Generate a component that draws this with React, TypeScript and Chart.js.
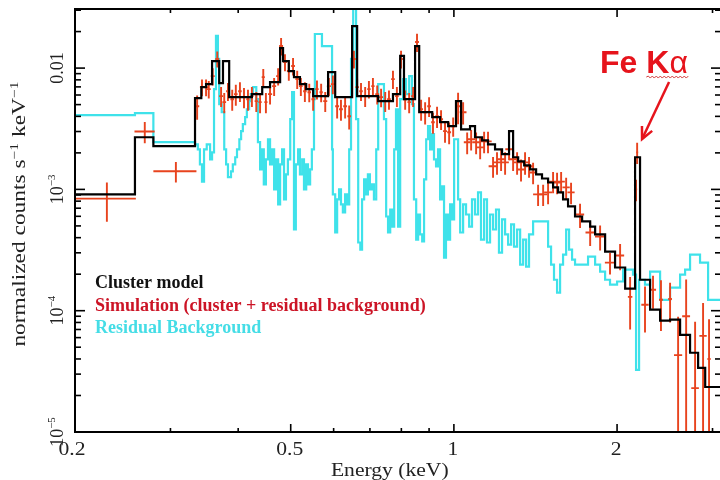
import React, { useEffect, useRef } from "react";
import { Chart, registerables } from "chart.js";

Chart.register(...registerables);

// ---------- axis ranges & ticks ----------
const X_MIN = 0.2;
const X_MAX = 3.11;
const Y_MIN = 1e-5;
const Y_MAX = 0.0307;

const xMajorTicks = [0.2, 0.5, 1, 2];
const xMinorTicks = [0.3, 0.4, 0.6, 0.7, 0.8, 0.9, 3];
const xTickLabels = ["0.2", "0.5", "1", "2"];

const yMajorTicks = [1e-5, 1e-4, 1e-3, 1e-2];
const yMinorTicks = [
  2e-5, 3e-5, 4e-5, 5e-5, 6e-5, 7e-5, 8e-5, 9e-5,
  2e-4, 3e-4, 4e-4, 5e-4, 6e-4, 7e-4, 8e-4, 9e-4,
  2e-3, 3e-3, 4e-3, 5e-3, 6e-3, 7e-3, 8e-3, 9e-3,
  0.02, 0.03,
];
const yTickLabels = ["-5", "-4", "-3", "0.01"];

// ---------- Cluster model (black histogram): bin edges (keV) and counts ----------
const modelE = [0.2, 0.258, 0.279, 0.333, 0.342, 0.349, 0.358, 0.369, 0.375, 0.385, 0.424, 0.443, 0.458, 0.478, 0.484, 0.496, 0.507, 0.52, 0.534, 0.55, 0.586, 0.604, 0.649, 0.663, 0.725, 0.772, 0.796, 0.809, 0.848, 0.863, 0.912, 0.943, 0.976, 1.009, 1.031, 1.071, 1.094, 1.127, 1.156, 1.191, 1.227, 1.264, 1.286, 1.314, 1.348, 1.382, 1.418, 1.454, 1.492, 1.524, 1.557, 1.59, 1.624, 1.673, 1.724, 1.784, 1.822, 1.901, 1.983, 2.07, 2.159, 2.205, 2.301, 2.401, 2.505, 2.614, 2.727, 2.822, 2.908, 3.11];
const modelV = [9.1e-4, 2.69e-3, 2.27e-3, 5.65e-3, 6.97e-3, 7.38e-3, 1.14e-2, 7.52e-3, 1.14e-2, 5.76e-3, 6.1e-3, 6.97e-3, 7.66e-3, 1.46e-2, 1.14e-2, 9.45e-3, 8.43e-3, 7.38e-3, 6.71e-3, 5.87e-3, 9.27e-3, 5.76e-3, 2.22e-2, 5.87e-3, 5.34e-3, 6.1e-3, 1.26e-2, 5.54e-3, 1.52e-2, 4.33e-3, 3.94e-3, 3.58e-3, 3.32e-3, 5.34e-3, 3.13e-3, 3.32e-3, 2.69e-3, 2.54e-3, 2.35e-3, 2.14e-3, 1.95e-3, 3.02e-3, 1.84e-3, 1.7e-3, 1.58e-3, 1.46e-3, 1.33e-3, 1.23e-3, 1.14e-3, 1.04e-3, 9.45e-4, 8.27e-4, 7.24e-4, 5.98e-4, 5.44e-4, 4.94e-4, 4.25e-4, 3.07e-4, 2.27e-4, 1.52e-4, 1.84e-3, 1.8e-4, 1.02e-4, 8.27e-5, 8.43e-5, 6.33e-5, 4.5e-5, 3.38e-5, 2.35e-5];

// ---------- Residual background (cyan histogram) ----------
const bkgE = [0.2, 0.258, 0.279, 0.333, 0.337, 0.34, 0.343, 0.346, 0.35, 0.355, 0.358, 0.361, 0.364, 0.367, 0.369, 0.373, 0.377, 0.38, 0.383, 0.388, 0.391, 0.395, 0.398, 0.402, 0.405, 0.408, 0.412, 0.415, 0.419, 0.422, 0.426, 0.432, 0.435, 0.439, 0.443, 0.446, 0.45, 0.454, 0.458, 0.462, 0.466, 0.47, 0.474, 0.478, 0.482, 0.486, 0.49, 0.494, 0.499, 0.503, 0.507, 0.511, 0.516, 0.52, 0.525, 0.529, 0.534, 0.538, 0.543, 0.547, 0.552, 0.554, 0.571, 0.596, 0.598, 0.604, 0.609, 0.614, 0.619, 0.624, 0.63, 0.635, 0.641, 0.646, 0.652, 0.66, 0.666, 0.672, 0.677, 0.683, 0.689, 0.694, 0.7, 0.706, 0.712, 0.719, 0.725, 0.743, 0.75, 0.756, 0.763, 0.769, 0.776, 0.782, 0.789, 0.796, 0.806, 0.816, 0.827, 0.837, 0.844, 0.852, 0.859, 0.866, 0.874, 0.881, 0.889, 0.896, 0.904, 0.912, 0.919, 0.927, 0.935, 0.943, 0.951, 0.959, 0.967, 0.976, 0.984, 0.992, 1.001, 1.018, 1.027, 1.04, 1.053, 1.067, 1.08, 1.094, 1.108, 1.122, 1.137, 1.151, 1.166, 1.181, 1.196, 1.211, 1.227, 1.243, 1.259, 1.275, 1.291, 1.308, 1.325, 1.342, 1.359, 1.376, 1.4, 1.492, 1.511, 1.53, 1.55, 1.57, 1.59, 1.611, 1.631, 1.652, 1.673, 1.768, 1.822, 1.861, 1.901, 1.941, 2.0, 2.052, 2.14, 2.168, 2.196, 2.252, 2.301, 2.401, 2.505, 2.614, 2.67, 2.727, 2.845, 2.944, 3.11];
const bkgV = [4.09e-3, 4.25e-3, 2.45e-3, 2.35e-3, 2.14e-3, 1.61e-3, 1.16e-3, 2.14e-3, 2.35e-3, 1.77e-3, 2.02e-3, 6.71e-3, 1.84e-2, 1.19e-2, 5.04e-3, 4.33e-3, 2.14e-3, 1.61e-3, 1.26e-3, 1.41e-3, 1.61e-3, 1.84e-3, 2.14e-3, 2.59e-3, 3.02e-3, 3.45e-3, 3.94e-3, 4.58e-3, 5.34e-3, 6.1e-3, 6.97e-3, 5.54e-3, 2.45e-3, 1.46e-3, 2.14e-3, 1.1e-3, 1.77e-3, 2.59e-3, 1.61e-3, 2.14e-3, 1.0e-3, 1.77e-3, 7.52e-4, 1.61e-3, 2.14e-3, 8.27e-4, 1.33e-3, 1.77e-3, 3.79e-3, 6.33e-3, 4.67e-4, 1.61e-3, 2.14e-3, 1.33e-3, 1.77e-3, 1.0e-3, 1.61e-3, 1.1e-3, 1.46e-3, 2.14e-3, 5.54e-3, 1.91e-2, 1.52e-2, 2.14e-3, 9.09e-4, 4.41e-4, 8.27e-4, 1.0e-3, 7.52e-4, 6.46e-4, 9.09e-4, 7.52e-4, 2.14e-3, 1.19e-2, 3.2e-2, 3.79e-3, 3.65e-4, 3.19e-4, 8.27e-4, 1.21e-3, 9.09e-4, 1.33e-3, 1.0e-3, 1.1e-3, 8.27e-4, 2.14e-3, 7.38e-3, 3.79e-3, 5.98e-4, 4.41e-4, 6.83e-4, 4.94e-4, 2.14e-3, 4.58e-3, 4.94e-4, 5.54e-3, 8.11e-3, 6.1e-3, 8.59e-3, 5.04e-3, 8.27e-4, 3.86e-4, 6.21e-4, 4.25e-4, 3.72e-4, 1.21e-3, 2.59e-3, 3.32e-3, 2.14e-3, 2.85e-3, 1.77e-3, 1.55e-3, 2.14e-3, 8.27e-4, 1.06e-3, 2.74e-4, 6.21e-4, 3.86e-4, 7.52e-4, 5.65e-4, 2.59e-3, 8.27e-4, 4.41e-4, 7.52e-4, 6.21e-4, 4.94e-4, 8.27e-4, 6.21e-4, 9.45e-4, 3.86e-4, 8.27e-4, 3.65e-4, 6.21e-4, 4.67e-4, 6.83e-4, 3.01e-4, 5.65e-4, 4.25e-4, 3.51e-4, 5.14e-4, 3.38e-4, 4.67e-4, 2.4e-4, 3.86e-4, 2.31e-4, 4.25e-4, 5.44e-4, 3.38e-4, 2.4e-4, 1.8e-4, 1.41e-4, 2.4e-4, 2.9e-4, 4.67e-4, 3.19e-4, 2.64e-4, 2.4e-4, 2.79e-4, 2.4e-4, 2.1e-4, 1.8e-4, 1.64e-4, 1.74e-4, 2.18e-4, 1.98e-4, 3.25e-5, 1.8e-4, 1.64e-4, 2.1e-4, 1.23e-4, 1.55e-4, 1.98e-4, 2.18e-4, 2.9e-4, 2.49e-4, 1.23e-4];

// ---------- Simulation (red data with error bars) ----------
const simE = [0.229, 0.269, 0.307, 0.336, 0.343, 0.349, 0.353, 0.359, 0.366, 0.372, 0.377, 0.383, 0.39, 0.396, 0.403, 0.41, 0.417, 0.424, 0.432, 0.439, 0.445, 0.45, 0.458, 0.466, 0.474, 0.48, 0.488, 0.496, 0.505, 0.514, 0.522, 0.531, 0.541, 0.55, 0.559, 0.569, 0.579, 0.588, 0.598, 0.609, 0.619, 0.63, 0.641, 0.654, 0.663, 0.674, 0.686, 0.697, 0.709, 0.722, 0.734, 0.747, 0.759, 0.772, 0.785, 0.799, 0.813, 0.827, 0.841, 0.855, 0.87, 0.885, 0.9, 0.915, 0.931, 0.947, 0.963, 0.98, 0.997, 1.018, 1.04, 1.058, 1.076, 1.099, 1.118, 1.137, 1.156, 1.181, 1.201, 1.222, 1.243, 1.264, 1.286, 1.308, 1.33, 1.353, 1.376, 1.4, 1.43, 1.461, 1.492, 1.524, 1.55, 1.577, 1.611, 1.645, 1.709, 1.784, 1.861, 1.941, 2.026, 2.114, 2.168, 2.178, 2.252, 2.33, 2.41, 2.505, 2.592, 2.682, 2.786, 2.882, 2.956];
const simV = [8.4e-4, 3.0e-3, 1.41e-3, 4.85e-3, 6.97e-3, 6.97e-3, 6.71e-3, 8.59e-3, 1.19e-2, 5.87e-3, 5.24e-3, 6.45e-3, 5.54e-3, 6.1e-3, 6.45e-3, 5.76e-3, 5.54e-3, 5.87e-3, 5.34e-3, 5.24e-3, 8.43e-3, 5.24e-3, 6.1e-3, 7.1e-3, 8.59e-3, 1.52e-2, 1.12e-2, 9.45e-3, 1.04e-2, 8.11e-3, 7.1e-3, 6.45e-3, 6.33e-3, 5.54e-3, 6.71e-3, 6.33e-3, 5.34e-3, 7.1e-3, 7.38e-3, 4.85e-3, 4.58e-3, 4.85e-3, 4.01e-3, 1.19e-2, 6.97e-3, 6.45e-3, 5.87e-3, 6.71e-3, 7.1e-3, 6.1e-3, 5.76e-3, 5.34e-3, 5.54e-3, 8.11e-3, 5.87e-3, 1.19e-2, 5.54e-3, 5.24e-3, 5.87e-3, 1.64e-2, 4.58e-3, 4.33e-3, 4.85e-3, 3.58e-3, 4.01e-3, 3.79e-3, 3.02e-3, 2.96e-3, 3.32e-3, 4.85e-3, 4.33e-3, 2.45e-3, 2.59e-3, 2.45e-3, 2.22e-3, 2.49e-3, 2.49e-3, 1.55e-3, 1.67e-3, 1.77e-3, 1.67e-3, 2.14e-3, 1.77e-3, 1.67e-3, 1.46e-3, 1.67e-3, 1.55e-3, 1.38e-3, 9.1e-4, 9.1e-4, 9.45e-4, 1.16e-3, 1.14e-3, 1.16e-3, 1.04e-3, 9.45e-4, 6.21e-4, 4.41e-4, 4.09e-4, 2.49e-4, 2.85e-4, 1.3e-4, 1.0e-3, 2.02e-3, 1.12e-4, 1.49e-4, 1.23e-4, 1.25e-4, 4.3e-5, 9.0e-5, 2.3e-5, 6.2e-5, 4.0e-5];
const simDE = [0.03, 0.0115, 0.028,
  0.003, 0.003, 0.003, 0.003, 0.003, 0.003, 0.003, 0.003, 0.003, 0.003, 0.003, 0.003, 0.003, 0.003, 0.003, 0.003, 0.003, 0.003, 0.003,
  0.004, 0.004, 0.004, 0.004, 0.004, 0.004, 0.004, 0.004, 0.004, 0.004, 0.004, 0.004, 0.004, 0.004,
  0.005, 0.005, 0.005, 0.005, 0.005, 0.005, 0.005, 0.005, 0.005, 0.005, 0.005, 0.005, 0.005,
  0.006, 0.006, 0.006, 0.006, 0.006, 0.006, 0.006, 0.006, 0.006,
  0.007, 0.007, 0.007, 0.007, 0.007, 0.007, 0.007,
  0.008, 0.008, 0.008, 0.008, 0.008,
  0.015, 0.015, 0.018, 0.018, 0.018, 0.018, 0.018,
  0.022, 0.02, 0.02, 0.02, 0.02, 0.022, 0.022, 0.022, 0.022, 0.022, 0.022,
  0.03, 0.025, 0.025, 0.025, 0.025, 0.025, 0.025, 0.025,
  0.03, 0.035,
  0.04, 0.042, 0.035, 0.02, 0.01, 0.01, 0.035, 0.03, 0.02, 0.02, 0.045, 0.045, 0.045, 0.045, 0.02];
const simDV = [3.0e-4, 6.0e-4, 2.7e-4,
  1.1e-3, 1.1e-3, 1.1e-3, 1.1e-3, 1.4e-3, 1.8e-3, 1.1e-3, 1.0e-3, 1.1e-3, 1.1e-3, 1.2e-3, 1.2e-3, 1.1e-3, 1.1e-3, 1.1e-3, 1.0e-3, 1.0e-3, 1.4e-3, 1.0e-3,
  1.1e-3, 1.2e-3, 1.4e-3, 2.5e-3, 1.8e-3, 1.6e-3, 1.7e-3, 1.4e-3, 1.2e-3, 1.2e-3, 1.1e-3, 1.1e-3, 1.2e-3, 1.1e-3,
  1.0e-3, 1.2e-3, 1.3e-3, 1.0e-3, 0.9e-3, 1.0e-3, 0.9e-3, 2.0e-3, 1.2e-3, 1.1e-3, 1.1e-3, 1.1e-3, 1.2e-3,
  1.1e-3, 1.0e-3, 1.0e-3, 1.0e-3, 1.4e-3, 1.1e-3, 2.0e-3, 1.0e-3, 1.0e-3,
  1.1e-3, 2.8e-3, 0.9e-3, 0.9e-3, 0.9e-3, 0.7e-3, 0.8e-3,
  0.7e-3, 0.6e-3, 0.6e-3, 0.6e-3, 1.4e-3,
  0.9e-3, 0.5e-3, 0.5e-3, 0.5e-3, 0.45e-3, 0.5e-3, 0.5e-3,
  0.3e-3, 0.35e-3, 0.35e-3, 0.35e-3, 0.4e-3, 0.35e-3, 0.35e-3, 0.3e-3, 0.35e-3, 0.3e-3, 0.28e-3,
  1.8e-4, 1.8e-4, 1.9e-4, 2.3e-4, 2.3e-4, 2.3e-4, 2.1e-4, 1.9e-4,
  1.4e-4, 1.0e-4,
  0.95e-4, 0.5e-4, 0.7e-4, 0.6e-4, 0.2e-3, 0.4e-3, 0.46e-4, 0.45e-4, 0.55e-4, 0.45e-4, 4.6e-5, 9.1e-5, 5.8e-5, 5.4e-5, 4.5e-5];

// ---------- legend & annotation ----------
const legendItems = [
  { text: "Cluster model", color: "#111111" },
  { text: "Simulation (cluster + residual background)", color: "#cc1426" },
  { text: "Residual Background", color: "#45dde6" },
];
const feAnnot = { energy: 2.224, counts: 2.6e-3, text: "Fe K", greek: "\u03b1" };

const BLACK = "#000000";
const RED = "#e8431e";
const CYAN = "#3fe2ea";
const FE_RED = "#e6141c";
const SERIF = '"Liberation Serif", "Times New Roman", serif';
const SANS = '"Liberation Sans", Arial, sans-serif';

function stepData(edges: number[], vals: number[]) {
  return edges.map((e, i) => ({ x: e, y: vals[Math.min(i, vals.length - 1)] }));
}

type Part = { t: string; sup?: boolean };

function drawParts(ctx: CanvasRenderingContext2D, parts: Part[], size: number, supSize: number, raise: number, bold = false) {
  const f = (s: number) => `${bold ? "bold " : ""}${s}px ${SERIF}`;
  let total = 0;
  const widths = parts.map((p) => {
    ctx.font = f(p.sup ? supSize : size);
    const w = ctx.measureText(p.t).width;
    total += w;
    return w;
  });
  let x = -total / 2;
  parts.forEach((p, i) => {
    ctx.font = f(p.sup ? supSize : size);
    ctx.fillText(p.t, x, p.sup ? -raise : 0);
    x += widths[i];
  });
}

const errorBarPlugin = {
  id: "simErrorBars",
  afterDatasetDraw(chart: any, args: any) {
    if (args.index !== 1) return;
    const { ctx, chartArea: a } = chart;
    const xs = chart.scales.x;
    const ys = chart.scales.y;
    ctx.save();
    ctx.beginPath();
    ctx.rect(a.left, a.top, a.right - a.left, a.bottom - a.top);
    ctx.clip();
    ctx.strokeStyle = RED;
    ctx.lineWidth = 1.9;
    for (let i = 0; i < simE.length; i++) {
      const e = simE[i];
      const v = simV[i];
      const px = xs.getPixelForValue(e);
      const py = ys.getPixelForValue(v);
      const x1 = xs.getPixelForValue(e - simDE[i]);
      const x2 = xs.getPixelForValue(e + simDE[i]);
      const lo = v - simDV[i];
      const hi = v + simDV[i];
      const y1 = lo > Y_MIN ? ys.getPixelForValue(lo) : a.bottom;
      const y2 = ys.getPixelForValue(hi);
      ctx.beginPath();
      ctx.moveTo(x1, py);
      ctx.lineTo(x2, py);
      ctx.moveTo(px, y1);
      ctx.lineTo(px, y2);
      ctx.stroke();
    }
    ctx.restore();
  },
};

const decorPlugin = {
  id: "decor",
  afterDraw(chart: any) {
    const { ctx, chartArea: a } = chart;
    const xs = chart.scales.x;
    const ys = chart.scales.y;
    ctx.save();
    ctx.strokeStyle = BLACK;
    ctx.lineWidth = 2;
    ctx.strokeRect(a.left, a.top, a.right - a.left, a.bottom - a.top);
    const seg = (x1: number, y1: number, x2: number, y2: number) => {
      ctx.beginPath();
      ctx.moveTo(x1, y1);
      ctx.lineTo(x2, y2);
      ctx.stroke();
    };
    ctx.lineWidth = 1.6;
    xMajorTicks.forEach((v) => {
      const px = xs.getPixelForValue(v);
      seg(px, a.bottom, px, a.bottom - 8);
      seg(px, a.top, px, a.top + 8);
    });
    xMinorTicks.forEach((v) => {
      const px = xs.getPixelForValue(v);
      seg(px, a.bottom, px, a.bottom - 4);
      seg(px, a.top, px, a.top + 4);
    });
    yMajorTicks.forEach((v) => {
      const py = ys.getPixelForValue(v);
      seg(a.left, py, a.left + 10, py);
      seg(a.right, py, a.right - 10, py);
    });
    yMinorTicks.forEach((v) => {
      const py = ys.getPixelForValue(v);
      seg(a.left, py, a.left + 6, py);
      seg(a.right, py, a.right - 6, py);
    });

    // x tick labels (slightly wide, as in the original figure)
    ctx.fillStyle = "#222";
    ctx.textAlign = "center";
    ctx.textBaseline = "alphabetic";
    ctx.font = `18px ${SERIF}`;
    xMajorTicks.forEach((v, i) => {
      const px = xs.getPixelForValue(v) - (i === 0 ? 3 : 1);
      ctx.save();
      ctx.translate(px, a.bottom + 23);
      ctx.scale(1.2, 1);
      ctx.fillText(xTickLabels[i], 0, 0);
      ctx.restore();
    });
    // x title
    ctx.save();
    ctx.translate((xs.getPixelForValue(0.2) + xs.getPixelForValue(3.0)) / 2 - 4, 476);
    ctx.scale(1.2, 1);
    ctx.font = `18px ${SERIF}`;
    ctx.fillText("Energy (keV)", 0, 0);
    ctx.restore();

    // y tick labels (rotated)
    ctx.textAlign = "left";
    yMajorTicks.forEach((v, i) => {
      const py = ys.getPixelForValue(v);
      ctx.save();
      ctx.translate(a.left - 12, py);
      ctx.rotate(-Math.PI / 2);
      const lab = yTickLabels[i];
      if (lab.startsWith("-")) {
        drawParts(ctx, [{ t: "10" }, { t: "\u2212" + lab.slice(1), sup: true }], 18, 11, 8);
      } else {
        drawParts(ctx, [{ t: lab }], 18, 11, 8);
      }
      ctx.restore();
    });
    // y title (stretched along its length, as in the original)
    ctx.save();
    ctx.translate(25, 214);
    ctx.rotate(-Math.PI / 2);
    ctx.scale(1.3, 1);
    drawParts(ctx, [{ t: "normalized counts s" }, { t: "\u22121", sup: true }, { t: " keV" }, { t: "\u22121", sup: true }], 18, 12, 7);
    ctx.restore();

    // legend text
    ctx.textAlign = "left";
    ctx.font = `bold 18px ${SERIF}`;
    legendItems.forEach((it, i) => {
      ctx.fillStyle = it.color;
      ctx.fillText(it.text, a.left + 20, 288 + i * 22.5);
    });

    // Fe K-alpha annotation
    const ax = xs.getPixelForValue(feAnnot.energy);
    const ay = ys.getPixelForValue(feAnnot.counts);
    ctx.fillStyle = FE_RED;
    ctx.font = `bold 32px ${SANS}`;
    const tx = ax - 42;
    const tb = ay - 66;
    ctx.fillText(feAnnot.text, tx, tb);
    const w1 = ctx.measureText(feAnnot.text).width;
    const kw = ctx.measureText("K").width;
    ctx.font = `32px ${SANS}`;
    ctx.fillText(feAnnot.greek, tx + w1, tb);
    const w2 = ctx.measureText(feAnnot.greek).width;
    ctx.strokeStyle = "#d23a3a";
    ctx.lineWidth = 1;
    ctx.beginPath();
    const sx0 = tx + w1 - kw;
    const sx1 = tx + w1 + w2 + 2;
    let up = true;
    ctx.moveTo(sx0, tb + 4);
    for (let x = sx0 + 2; x <= sx1; x += 2) {
      ctx.lineTo(x, tb + (up ? 3 : 5));
      up = !up;
    }
    ctx.stroke();
    // arrow
    ctx.strokeStyle = FE_RED;
    ctx.lineWidth = 2.5;
    const sx = ax + 27;
    const sy = ay - 57;
    seg(sx, sy, ax + 1, ay - 2);
    const dx = sx - ax;
    const dy = sy - ay;
    const L = Math.hypot(dx, dy);
    const ux = dx / L;
    const uy = dy / L;
    const hl = 13;
    const ang = 0.45;
    const rot = (c: number, s: number) => [ux * c - uy * s, ux * s + uy * c];
    const [r1x, r1y] = rot(Math.cos(ang), Math.sin(ang));
    const [r2x, r2y] = rot(Math.cos(-ang), Math.sin(-ang));
    ctx.beginPath();
    ctx.moveTo(ax + r1x * hl, ay + r1y * hl);
    ctx.lineTo(ax, ay);
    ctx.lineTo(ax + r2x * hl, ay + r2y * hl);
    ctx.stroke();
    ctx.restore();
  },
};

export default function App() {
  const ref = useRef<HTMLCanvasElement>(null);
  useEffect(() => {
    document.body.style.margin = "0";
    document.body.style.overflow = "hidden";
    const canvas = ref.current;
    if (!canvas) return;
    const chart = new Chart(canvas, {
      type: "line",
      data: {
        datasets: [
          {
            label: "Cluster model",
            data: stepData(modelE, modelV),
            borderColor: BLACK,
            borderWidth: 2.2,
            stepped: true,
            pointRadius: 0,
            fill: false,
          },
          {
            label: "Simulation (cluster + residual background)",
            data: simE.map((e, i) => ({ x: e, y: simV[i] })),
            borderColor: RED,
            showLine: false,
            pointRadius: 0,
          },
          {
            label: "Residual Background",
            data: stepData(bkgE, bkgV),
            borderColor: CYAN,
            borderWidth: 2.2,
            stepped: true,
            pointRadius: 0,
            fill: false,
          },
        ],
      } as any,
      options: {
        animation: false,
        responsive: false,
        maintainAspectRatio: false,
        layout: { padding: { left: 0, top: 9, right: 3, bottom: 0 } },
        plugins: { legend: { display: false }, tooltip: { enabled: false }, title: { display: false } },
        scales: {
          x: {
            type: "logarithmic",
            min: X_MIN,
            max: X_MAX,
            ticks: { display: false },
            grid: { display: false },
            border: { display: false },
            afterFit: (s: any) => {
              s.height = 48;
            },
          },
          y: {
            type: "logarithmic",
            min: Y_MIN,
            max: Y_MAX,
            ticks: { display: false },
            grid: { display: false },
            border: { display: false },
            afterFit: (s: any) => {
              s.width = 75;
            },
          },
        },
      } as any,
      plugins: [errorBarPlugin, decorPlugin],
    });
    return () => chart.destroy();
  }, []);
  return (
    <div style={{ width: 724, height: 480, overflow: "hidden", background: "#fff" }}>
      <canvas ref={ref} width={724} height={480} style={{ display: "block" }} />
    </div>
  );
}
